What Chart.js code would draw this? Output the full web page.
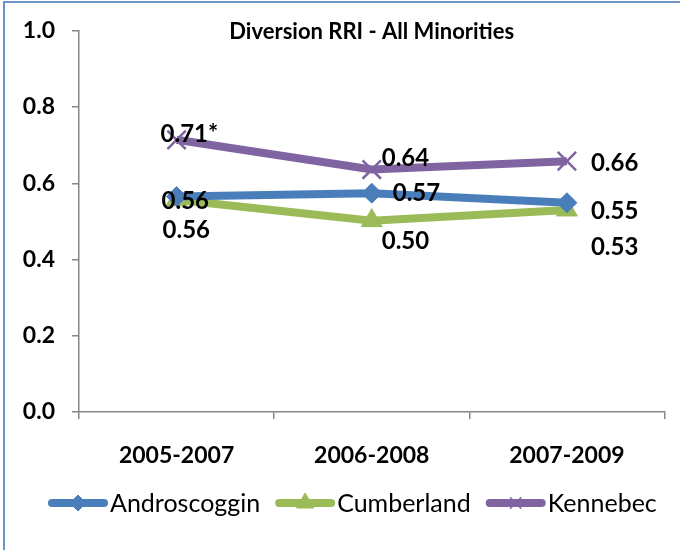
<!DOCTYPE html>
<html>
<head>
<meta charset="utf-8">
<script src="https://cdn.jsdelivr.net/npm/chart.js@4.4.0/dist/chart.umd.min.js"></script>
<style>
  html, body { margin: 0; padding: 0; background: #fff; }
  #wrap { position: relative; width: 680px; height: 550px; overflow: hidden; }
  #frame { position: absolute; left: 3px; top: 1px; width: 720px; height: 600px;
           border: 2px solid #6c94c8; box-sizing: border-box; pointer-events: none; }
  canvas { position: absolute; left: 0; top: 0; }
</style>
</head>
<body>
<div id="wrap">
  <canvas id="chart" width="680" height="550"></canvas>
  <div id="frame"></div>
</div>
<script>
// ---- data ----
const periods = ["2005-2007", "2006-2008", "2007-2009"];
const seriesNames = ["Androscoggin", "Cumberland", "Kennebec"];
const androscoggin = [0.565, 0.574, 0.549];
const cumberland = [0.557, 0.502, 0.530];
const kennebec = [0.714, 0.636, 0.658];
const androLabels = ["0.56", "0.57", "0.55"];
const cumberLabels = ["0.56", "0.50", "0.53"];
const kennLabels = ["0.71*", "0.64", "0.66"];
const yTicks = [0.0, 0.2, 0.4, 0.6, 0.8, 1.0];
const chartTitle = "Diversion RRI - All Minorities";

const FONT = "Lato, 'Open Sans', sans-serif";
const COLORS = ["#4a7ebb", "#9bbb59", "#8064a2"];

// label offsets (px) relative to each point: [dx, dy]
const labelOffsets = [
    [[-15, 5], [21, 0], [24, 9]],
    [[-14, 31], [10, 21], [24, 37]],
    [[-16, -6], [10, -11], [24, 2]]
];
const labelTexts = [androLabels, cumberLabels, kennLabels];
// legend marker look (smaller than in the plot)
const legendMarks = [
    { radius: 8, borderWidth: 1 },
    { radius: 10, borderWidth: 1 },
    { radius: 8, borderWidth: 1.5 }
];

const extras = {
    id: "extras",
    afterDatasetsDraw(chart) {
        const ctx = chart.ctx;
        const area = chart.chartArea;
        ctx.save();
        // title
        ctx.fillStyle = "#000";
        ctx.font = "bold 22px " + FONT;
        ctx.textAlign = "center";
        ctx.textBaseline = "middle";
        ctx.fillText(chartTitle, (area.left + area.right) / 2, area.top + 1);

        // data labels
        ctx.font = "bold 24px " + FONT;
        ctx.textAlign = "left";
        chart.data.datasets.forEach((ds, i) => {
            const meta = chart.getDatasetMeta(i);
            meta.data.forEach((pt, j) => {
                const off = labelOffsets[i][j];
                ctx.fillText(labelTexts[i][j], pt.x + off[0], pt.y + off[1]);
            });
        });

        // legend: line with marker, then name
        ctx.font = "25px " + FONT;
        ctx.textBaseline = "middle";
        let x = 48;
        const y = 503;
        chart.data.datasets.forEach((ds, i) => {
            ctx.strokeStyle = ds.borderColor;
            ctx.lineWidth = 8;
            ctx.lineCap = "round";
            ctx.beginPath();
            ctx.moveTo(x + 4, y);
            ctx.lineTo(x + 56, y);
            ctx.stroke();
            ctx.fillStyle = ds.borderColor;
            ctx.lineWidth = legendMarks[i].borderWidth;
            ctx.lineCap = "butt";
            Chart.helpers.drawPoint(ctx, {
                pointStyle: ds.pointStyle,
                radius: legendMarks[i].radius,
                borderWidth: legendMarks[i].borderWidth,
                rotation: 0
            }, x + 30, y);
            ctx.fillStyle = "#000";
            ctx.fillText(ds.label, x + 62, y + 1);
            x += 62 + ctx.measureText(ds.label).width + 15;
        });
        ctx.restore();
    }
};

function makeSet(name, data, color, style, radius, bw) {
    return {
        label: name, data,
        borderColor: color, backgroundColor: color,
        pointBackgroundColor: color, pointBorderColor: color,
        pointStyle: style, pointRadius: radius, pointBorderWidth: bw,
        borderWidth: 8, tension: 0, fill: false
    };
}

new Chart(document.getElementById("chart"), {
    type: "line",
    data: {
        labels: periods,
        datasets: [
            makeSet(seriesNames[0], androscoggin, COLORS[0], "rectRot", 10, 1),
            makeSet(seriesNames[1], cumberland, COLORS[1], "triangle", 12, 1),
            makeSet(seriesNames[2], kennebec, COLORS[2], "crossRot", 13, 2.5)
        ]
    },
    options: {
        responsive: false,
        animation: false,
        events: [],
        layout: { padding: { left: 0, right: 3, top: 27, bottom: 0 } },
        plugins: { legend: { display: false }, tooltip: { enabled: false }, title: { display: false } },
        scales: {
            x: {
                offset: true,
                grid: { offset: true, drawOnChartArea: false, tickLength: 7, color: "#868686", lineWidth: 1.5 },
                border: { color: "#868686", width: 1.5 },
                ticks: { color: "#000", font: { family: FONT, size: 23, weight: "bold" }, padding: 23, maxRotation: 0 },
                afterFit(scale) { scale.height = 138; }
            },
            y: {
                min: 0, max: 1,
                afterBuildTicks(scale) { scale.ticks = yTicks.map(v => ({ value: v })); },
                grid: { drawOnChartArea: false, tickLength: 7, color: "#868686", lineWidth: 1.5 },
                border: { color: "#868686", width: 1.5 },
                ticks: {
                    color: "#000", padding: 17,
                    font: { family: FONT, size: 23, weight: "bold" },
                    callback: v => v.toFixed(1)
                },
                afterFit(scale) { scale.width = 79; }
            }
        }
    },
    plugins: [extras]
});
</script>
</body>
</html>
